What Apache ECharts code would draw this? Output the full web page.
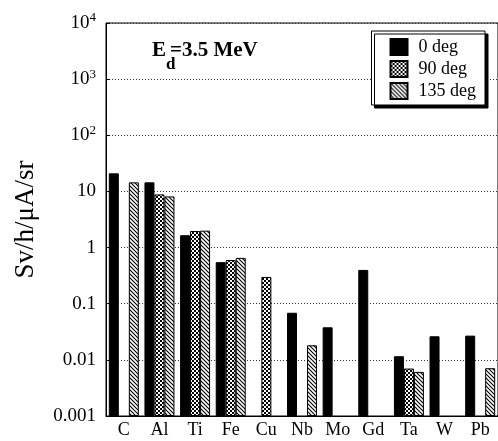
<!DOCTYPE html>
<html>
<head>
<meta charset="utf-8">
<script src="https://cdn.jsdelivr.net/npm/echarts@6/dist/echarts.min.js"></script>
<style>html,body{margin:0;padding:0;background:#fff}#c{width:498px;height:441px}</style>
</head>
<body>
<div id="c"></div>
<script>
const categories = ['C','Al','Ti','Fe','Cu','Nb','Mo','Gd','Ta','W','Pb'];
const deg0   = [21, 14.5, 1.66, 0.55, null, 0.069, 0.038, 0.40, 0.0116, 0.0263, 0.027];
const deg90  = [null, 8.85, 1.97, 0.60, 0.30, null, null, null, 0.0070, null, null];
const deg135 = [14.5, 8.15, 2.0, 0.655, null, 0.0182, null, null, 0.0061, null, 0.0071];
const seriesNames = ['0 deg','90 deg','135 deg'];
const yTickLabels = {'-3':'0.001','-2':'0.01','-1':'0.1','0':'1','1':'10','2':'10{s|2}','3':'10{s|3}','4':'10{s|4}'};

function checker(){
  const c=document.createElement('canvas'); c.width=4; c.height=4;
  const x=c.getContext('2d'); x.fillStyle='#fff'; x.fillRect(0,0,4,4);
  x.fillStyle='#000'; x.fillRect(0,0,2,2); x.fillRect(2,2,2,2);
  return c;
}
function hatch(){
  const c=document.createElement('canvas'); c.width=4; c.height=4;
  const x=c.getContext('2d'); x.fillStyle='#fff'; x.fillRect(0,0,4,4);
  x.strokeStyle='#000'; x.lineWidth=1.1;
  x.beginPath();
  x.moveTo(-1,-1); x.lineTo(5,5);
  x.moveTo(-1,3); x.lineTo(1,5);
  x.moveTo(3,-1); x.lineTo(5,1);
  x.stroke();
  return c;
}
const fills = ['#000', {image: checker(), repeat:'repeat'}, {image: hatch(), repeat:'repeat'}];
const datas = [deg0, deg90, deg135];
const font = '"Liberation Serif","Times New Roman",serif';

const chart = echarts.init(document.getElementById('c'), null, {renderer:'canvas'});
chart.setOption({
  animation:false,
  grid:{left:106, top:23, width:394, bottom:25, show:true, borderColor:'#000', borderWidth:1, backgroundColor:'transparent'},
  legend:{
    right:13, top:31, orient:'vertical', itemWidth:17, itemHeight:16, itemGap:4,
    padding:[7,9,5,18], backgroundColor:'#fff', borderColor:'#000', borderWidth:1,
    shadowColor:'#000', shadowBlur:0, shadowOffsetX:3, shadowOffsetY:3,
    textStyle:{fontFamily:font, fontSize:18, color:'#000', padding:[0,0,0,6]},
    icon:'rect', data:seriesNames
  },
  xAxis:{
    type:'category', data:categories,
    axisLine:{lineStyle:{color:'#000'}}, axisTick:{show:false},
    axisLabel:{fontFamily:font, fontSize:18, color:'#000', margin:5}
  },
  yAxis:{
    type:'log', logBase:10, min:0.001, max:10000, startValue:0.001,
    name:'Sv/h/\u03bcA/sr', nameLocation:'middle', nameGap:67,
    nameTextStyle:{fontFamily:font, fontSize:27, color:'#000'},
    axisLine:{show:true, lineStyle:{color:'#000'}},
    axisTick:{show:true, inside:true, length:4, lineStyle:{color:'#000'}},
    minorTick:{show:false},
    splitLine:{show:true, lineStyle:{color:'#333', type:[1,2], width:1}},
    axisLabel:{
      margin:10, fontFamily:font, fontSize:19, color:'#000',
      formatter:function(v){ const k=Math.round(Math.log10(v)); return yTickLabels[String(k)]; },
      rich:{s:{fontFamily:font, fontSize:13, color:'#000', verticalAlign:'top', padding:[0,0,10,0]}}
    }
  },
  series: seriesNames.map((n,i)=>({
    name:n, type:'bar', data:datas[i], barWidth:10, barGap:'0%',
    itemStyle:{color:fills[i], borderColor:'#000', borderWidth:1}
  })),
  graphic:[
    {type:'text', left:152, top:40, style:{text:'E', font:'bold 21px '+font, fill:'#000'}},
    {type:'text', left:166, top:56, style:{text:'d', font:'bold 17px '+font, fill:'#000'}},
    {type:'text', left:170, top:40, style:{text:'=3.5 MeV', font:'bold 21px '+font, fill:'#000'}}
  ]
});
</script>
</body>
</html>
